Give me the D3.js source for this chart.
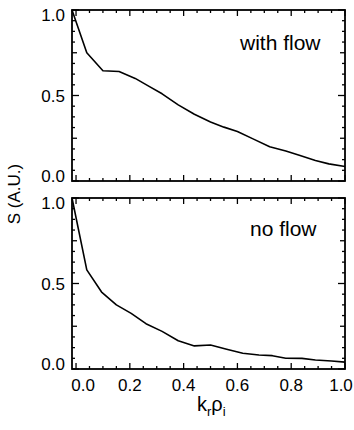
<!DOCTYPE html>
<html>
<head>
<meta charset="utf-8">
<script src="https://cdn.jsdelivr.net/npm/d3@7"></script>
<style>
  body { margin: 0; background: #fff; }
  svg text { font-family: "Liberation Sans", Arial, Helvetica, sans-serif; fill: #000; }
</style>
</head>
<body>
<div id="chart"></div>
<script>
// values
const kWith = [-0.015, 0.04, 0.10, 0.16, 0.22, 0.27, 0.32, 0.38, 0.44, 0.50, 0.55, 0.60, 0.66, 0.72, 0.78, 0.83, 0.89, 0.94, 1.0];
const sWith = [1.0, 0.75, 0.645, 0.64, 0.60, 0.555, 0.51, 0.445, 0.39, 0.345, 0.315, 0.29, 0.245, 0.20, 0.175, 0.15, 0.12, 0.10, 0.085];

const kNo = [-0.015, 0.04, 0.095, 0.15, 0.205, 0.26, 0.32, 0.38, 0.44, 0.50, 0.56, 0.62, 0.68, 0.73, 0.78, 0.84, 0.89, 0.95, 1.0];
const sNo = [1.0, 0.58, 0.45, 0.375, 0.325, 0.265, 0.22, 0.165, 0.135, 0.14, 0.115, 0.092, 0.082, 0.078, 0.063, 0.062, 0.053, 0.047, 0.04];

const xTicks = [0.0, 0.2, 0.4, 0.6, 0.8, 1.0];
const yTicks = [0.0, 0.5, 1.0];
const panelLabels = ["with flow", "no flow"];

const W = 354, H = 430;
const left = 72, right = 345;

const svg = d3.select("#chart").append("svg")
    .attr("width", W)
    .attr("height", H);

const x = d3.scaleLinear().domain([-0.015, 1.0]).range([left, right]);

const panels = [
    { top: 10, bottom: 181, k: kWith, s: sWith, label: panelLabels[0], lx: 240, ly: 50 },
    { top: 198, bottom: 369, k: kNo, s: sNo, label: panelLabels[1], lx: 250, ly: 236 }
];

const minorX = d3.range(0, 1.0001, 0.05).filter(v => !xTicks.some(t => Math.abs(t - v) < 1e-6));
const minorY = d3.range(0, 1.0001, 0.0625).filter(v => Math.abs(v % 0.25) > 1e-6 && Math.abs(v % 0.25 - 0.25) > 1e-6);
const midY = [0.25, 0.75];

panels.forEach((p, i) => {
    const y = d3.scaleLinear().domain([0, 1]).range([p.bottom, p.top]);
    const g = svg.append("g");

    // tick marks on all four sides, pointing inward
    const tick = (vals, size, fn) => {
        vals.forEach(v => {
            const c = fn(v, size);
            g.append("line")
                .attr("x1", c[0]).attr("y1", c[1]).attr("x2", c[2]).attr("y2", c[3])
                .attr("stroke", "#000").attr("stroke-width", 1.3);
        });
    };
    const bottomT = (v, s) => [x(v), p.bottom, x(v), p.bottom - s];
    const topT = (v, s) => [x(v), p.top, x(v), p.top + s];
    const leftT = (v, s) => [left, y(v), left + s, y(v)];
    const rightT = (v, s) => [right, y(v), right - s, y(v)];

    tick(xTicks, 6, bottomT); tick(xTicks, 6, topT);
    tick(minorX, 3, bottomT); tick(minorX, 3, topT);
    tick(yTicks, 7, leftT); tick(yTicks, 7, rightT);
    tick(midY, 5, leftT); tick(midY, 5, rightT);
    tick(minorY, 3, leftT); tick(minorY, 3, rightT);

    // frame
    g.append("rect")
        .attr("x", left).attr("y", p.top)
        .attr("width", right - left).attr("height", p.bottom - p.top)
        .attr("fill", "none").attr("stroke", "#000").attr("stroke-width", 1.8);

    // y tick labels (end labels nudged inward like the original)
    g.selectAll(".ylab").data(yTicks).enter().append("text")
        .attr("x", left - 7)
        .attr("y", d => y(d) + (d === 1 ? 5 : d === 0 ? -5 : 0))
        .attr("dy", "0.36em")
        .attr("text-anchor", "end")
        .style("font-size", "17px")
        .text(d => d3.format(".1f")(d));

    // the curve
    const pts = p.k.map((k, j) => [k, p.s[j]]);
    g.append("path")
        .datum(pts)
        .attr("fill", "none")
        .attr("stroke", "#000")
        .attr("stroke-width", 1.6)
        .attr("stroke-linejoin", "round")
        .attr("d", d3.line().x(d => x(d[0])).y(d => y(d[1])));

    g.append("text")
        .attr("x", p.lx).attr("y", p.ly)
        .style("font-size", "21px")
        .text(p.label);

    // x tick labels only on the lower panel
    if (i === 1) {
        g.selectAll(".xlab").data(xTicks).enter().append("text")
            .attr("x", d => x(d) + (d === 0 ? 7 : d === 1 ? -4 : 0))
            .attr("y", p.bottom + 22)
            .attr("text-anchor", "middle")
            .style("font-size", "17px")
            .text(d => d3.format(".1f")(d));
    }
});

// axis titles
svg.append("text")
    .attr("transform", "translate(20,194) rotate(-90)")
    .attr("text-anchor", "middle")
    .style("font-size", "17px")
    .text("S (A.U.)");

const xt = svg.append("text")
    .attr("x", 197).attr("y", 411)
    .style("font-size", "20px");
xt.append("tspan").text("k");
xt.append("tspan").attr("dy", 5).style("font-size", "13px").text("r");
xt.append("tspan").attr("dy", -5).text("ρ");
xt.append("tspan").attr("dy", 5).style("font-size", "13px").text("i");
</script>
</body>
</html>
